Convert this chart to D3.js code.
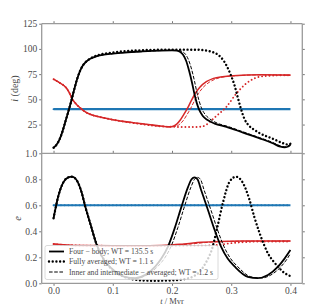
<!DOCTYPE html>
<html><head><meta charset="utf-8">
<script src="https://cdn.jsdelivr.net/npm/d3@7"></script>
<style>
html,body{margin:0;padding:0;background:#fff;}
svg{display:block;}
text{font-family:"Liberation Serif","Times New Roman",serif;}
</style></head>
<body>
<svg id="c" width="336" height="304"></svg>
<script>
// ---------- DATA (t in Myr) ----------
const xTicks = [0.0, 0.1, 0.2, 0.3, 0.4];
const iTicks = [25, 50, 75, 100, 125];
const eTicks = [0.0, 0.2, 0.4, 0.6, 0.8, 1.0];
const legendLabels = ["Four \u2212 body; WT = 135.5 s", "Fully averaged; WT = 1.1 s", "Inner and intermediate \u2212 averaged; WT = 1.2 s"];

// inclination, black (inner) curves
const iFourBlack = [[0,2],[0.005,5],[0.01,10],[0.015,18],[0.02,28],[0.025,38],[0.03,48.5],[0.035,60],[0.04,70.5],[0.045,78.5],[0.05,84],[0.055,87.3],[0.062,90.2],[0.07,92.2],[0.078,93.5],[0.1,95.3],[0.12,96.4],[0.15,97.5],[0.18,98.3],[0.2,98.5],[0.208,98.2],[0.214,97],[0.219,94],[0.224,88],[0.229,78],[0.234,66],[0.238,55],[0.242,46],[0.246,39.5],[0.252,33.5],[0.26,29.5],[0.272,26],[0.292,22.8],[0.32,17],[0.348,11.3],[0.37,6.5],[0.383,3],[0.39,2.4],[0.395,3],[0.4,5]];
const iInnerBlack = [[0,2],[0.005,5],[0.01,10],[0.015,18],[0.02,28],[0.025,38],[0.03,48.5],[0.035,60],[0.04,70.5],[0.045,78.5],[0.05,84],[0.055,87.3],[0.062,90.2],[0.07,92.2],[0.078,93.5],[0.1,95.3],[0.12,96.4],[0.15,97.5],[0.18,98.3],[0.2,98.6],[0.212,98.3],[0.218,97.2],[0.223,94.5],[0.228,89],[0.233,80],[0.238,68],[0.242,57],[0.246,48],[0.25,41],[0.256,35],[0.264,30.5],[0.276,26.5],[0.295,23],[0.32,17.8],[0.348,12],[0.37,7.3],[0.383,3.8],[0.39,3],[0.395,3.5],[0.4,5.5]];
const iFullBlack = [[0,2],[0.005,5],[0.01,10],[0.015,18],[0.02,28],[0.025,38],[0.03,48.5],[0.035,60],[0.04,70.5],[0.045,78.5],[0.05,84],[0.055,87.5],[0.062,90.5],[0.07,92.8],[0.078,94.3],[0.1,96.5],[0.12,97.8],[0.15,98.7],[0.2,99.3],[0.24,99.2],[0.255,98.6],[0.265,97.5],[0.277,94.5],[0.287,88.5],[0.295,80],[0.3,73],[0.305,65],[0.311,52],[0.317,39.5],[0.322,31],[0.329,24.5],[0.339,19.8],[0.348,16.5],[0.37,11],[0.388,6.4],[0.395,5.3],[0.4,6]];
// inclination, red (intermediate) curves
const iFourRed = [[0,70],[0.01,66.5],[0.022,61],[0.028,55],[0.031,51],[0.038,45.5],[0.045,41.5],[0.055,37],[0.065,34.5],[0.078,32.5],[0.1,29.8],[0.135,26.8],[0.16,25],[0.18,23.5],[0.195,22.7],[0.202,23.3],[0.208,25.5],[0.214,29.5],[0.22,35],[0.226,41],[0.232,48],[0.24,56.5],[0.247,62],[0.258,67.5],[0.27,70.8],[0.285,72.5],[0.303,73.5],[0.35,74.3],[0.4,74]];
const iInnerRed = [[0,70],[0.01,66.5],[0.022,61],[0.028,55],[0.031,51],[0.038,45.5],[0.045,41.5],[0.055,37],[0.065,34.5],[0.078,32.5],[0.1,29.8],[0.135,26.8],[0.16,25],[0.18,23.5],[0.2,22.8],[0.207,23.3],[0.213,25.3],[0.219,29],[0.225,34.5],[0.231,40.5],[0.237,47.5],[0.245,56],[0.252,61.5],[0.263,67],[0.275,70.5],[0.29,72.5],[0.31,73.5],[0.35,74.3],[0.4,74]];
const iFullRed = [[0,70],[0.01,66.5],[0.022,61],[0.028,55],[0.031,51],[0.038,45.5],[0.045,41.5],[0.055,37],[0.065,34.5],[0.078,32.5],[0.1,29.8],[0.135,26.5],[0.16,24.5],[0.18,23.3],[0.2,22.8],[0.23,22.5],[0.248,22.8],[0.257,24.5],[0.264,27.8],[0.275,33.5],[0.292,42.7],[0.309,56],[0.326,66],[0.348,72.4],[0.37,73.6],[0.4,74]];
// inclination, blue (outer) curve
const iBlue = [[0,40.3],[0.4,40.3]];

// eccentricity, black curves
const eFourBlack = [[0,0.5],[0.008,0.67],[0.017,0.78],[0.025,0.815],[0.031,0.82],[0.038,0.8],[0.048,0.69],[0.053,0.6],[0.062,0.46],[0.073,0.295],[0.085,0.18],[0.098,0.115],[0.12,0.05],[0.138,0.04],[0.155,0.065],[0.172,0.13],[0.182,0.19],[0.193,0.28],[0.205,0.43],[0.216,0.59],[0.227,0.74],[0.233,0.8],[0.238,0.815],[0.243,0.8],[0.249,0.72],[0.261,0.56],[0.272,0.41],[0.283,0.28],[0.294,0.19],[0.306,0.128],[0.328,0.05],[0.345,0.04],[0.362,0.064],[0.379,0.128],[0.39,0.19],[0.4,0.256]];
const eInnerBlack = [[0,0.5],[0.008,0.67],[0.017,0.78],[0.025,0.815],[0.031,0.82],[0.038,0.8],[0.048,0.69],[0.053,0.6],[0.062,0.46],[0.073,0.295],[0.085,0.18],[0.098,0.115],[0.12,0.05],[0.14,0.04],[0.158,0.065],[0.176,0.13],[0.187,0.19],[0.198,0.28],[0.21,0.43],[0.221,0.59],[0.232,0.74],[0.238,0.8],[0.243,0.815],[0.248,0.8],[0.254,0.72],[0.266,0.56],[0.277,0.41],[0.288,0.28],[0.299,0.19],[0.311,0.128],[0.333,0.05],[0.35,0.04],[0.367,0.064],[0.384,0.128],[0.394,0.185],[0.4,0.23]];
const eFullBlack = [[0,0.5],[0.008,0.67],[0.017,0.78],[0.025,0.815],[0.031,0.82],[0.038,0.8],[0.048,0.69],[0.053,0.6],[0.062,0.46],[0.073,0.295],[0.09,0.15],[0.11,0.07],[0.13,0.035],[0.15,0.022],[0.17,0.02],[0.19,0.021],[0.21,0.026],[0.225,0.036],[0.237,0.055],[0.247,0.09],[0.256,0.15],[0.262,0.2],[0.267,0.256],[0.276,0.42],[0.286,0.62],[0.297,0.78],[0.308,0.82],[0.32,0.77],[0.331,0.64],[0.339,0.51],[0.348,0.385],[0.355,0.3],[0.362,0.23],[0.371,0.17],[0.379,0.128],[0.387,0.09],[0.4,0.055]];
// eccentricity, red curves
const eFourRed = [[0,0.302],[0.02,0.295],[0.05,0.29],[0.1,0.288],[0.15,0.289],[0.19,0.293],[0.22,0.303],[0.25,0.315],[0.28,0.322],[0.32,0.325],[0.4,0.325]];
const eInnerRed = [[0,0.302],[0.02,0.295],[0.05,0.29],[0.1,0.288],[0.15,0.289],[0.19,0.291],[0.225,0.3],[0.255,0.313],[0.285,0.321],[0.32,0.324],[0.4,0.325]];
const eFullRed = [[0,0.302],[0.02,0.295],[0.05,0.29],[0.1,0.288],[0.15,0.288],[0.2,0.288],[0.25,0.289],[0.28,0.296],[0.3,0.309],[0.33,0.319],[0.36,0.322],[0.4,0.322]];
// eccentricity, blue curve
const eBlue = [[0,0.6],[0.4,0.6]];

// ---------- LAYOUT ----------
const L = 41.7, R = 302.3, T1 = 23.7, B1 = 153.3, B2 = 283.3;
const svg = d3.select("#c");
const x = d3.scaleLinear().domain([-0.02, 0.42]).range([L, R]);
const yI = d3.scaleLinear().domain([-3.5, 125]).range([B1, T1]);
const yE = d3.scaleLinear().domain([0, 1]).range([B2, B1]);

const BLUE = "#1f77b4", RED = "#d62728", BLACK = "#000";
const styles = {
  solid:  {w: 1.8, dash: null, cap: "butt"},
  dotted: {w: 2.4, dash: "0.01 3.7", cap: "round"},
  dashed: {w: 1.0, dash: "3.6 1.6", cap: "butt"}
};

function clip(id, y0, y1){
  svg.append("clipPath").attr("id", id).append("rect")
    .attr("x", L).attr("y", y0).attr("width", R - L).attr("height", y1 - y0);
}
clip("cp1", T1, B1); clip("cp2", B1, B2);

function drawLine(g, data, y, color, style, wMul){
  const s = styles[style];
  const line = d3.line().x(d => x(d[0])).y(d => y(d[1])).curve(d3.curveMonotoneX);
  g.append("path").attr("d", line(data)).attr("fill", "none")
    .attr("stroke", color).attr("stroke-width", s.w * (wMul || 1))
    .attr("stroke-dasharray", s.dash).attr("stroke-linecap", s.cap)
    .attr("stroke-linejoin", "round");
}

// panel 1
const g1 = svg.append("g").attr("clip-path", "url(#cp1)");
drawLine(g1, iBlue, yI, BLUE, "solid", 1.15);
drawLine(g1, iBlue, yI, BLUE, "dotted", 0.8);
drawLine(g1, iFourRed, yI, RED, "solid", 0.85);
drawLine(g1, iFullRed, yI, RED, "dotted", 0.8);
drawLine(g1, iInnerRed, yI, RED, "dashed");
drawLine(g1, iFourBlack, yI, BLACK, "solid");
drawLine(g1, iFullBlack, yI, BLACK, "dotted");
drawLine(g1, iInnerBlack, yI, BLACK, "dashed");

// panel 2
const g2 = svg.append("g").attr("clip-path", "url(#cp2)");
drawLine(g2, eBlue, yE, BLUE, "solid", 1.15);
drawLine(g2, eBlue, yE, BLUE, "dotted", 0.8);
drawLine(g2, eFourRed, yE, RED, "solid", 0.85);
drawLine(g2, eFullRed, yE, RED, "dotted", 0.8);
drawLine(g2, eInnerRed, yE, RED, "dashed");
drawLine(g2, eFourBlack, yE, BLACK, "solid");
drawLine(g2, eFullBlack, yE, BLACK, "dotted");
drawLine(g2, eInnerBlack, yE, BLACK, "dashed");

// ---------- AXES ----------
const SPINE = "#9a9a9a", TXT = "#4a4a4a";
function styleAxis(sel, showText){
  sel.select(".domain").remove();
  sel.selectAll(".tick line").attr("stroke", "#555").attr("stroke-width", 0.8);
  sel.selectAll(".tick text").attr("fill", TXT).style("font-size", "9.5px")
    .style("font-family", '"Liberation Serif",serif');
  if (!showText) sel.selectAll(".tick text").remove();
}
const fmtE = d3.format(".1f");
// panel 1 axes
styleAxis(svg.append("g").attr("transform", `translate(${L},0)`)
  .call(d3.axisLeft(yI).tickValues(iTicks).tickSize(2.5).tickPadding(2)), true);
styleAxis(svg.append("g").attr("transform", `translate(${R},0)`)
  .call(d3.axisRight(yI).tickValues(iTicks).tickSize(2.5)), false);
styleAxis(svg.append("g").attr("transform", `translate(0,${T1})`)
  .call(d3.axisTop(x).tickValues(xTicks).tickSize(2.5)), false);
// panel 2 axes
styleAxis(svg.append("g").attr("transform", `translate(${L},0)`)
  .call(d3.axisLeft(yE).tickValues(eTicks).tickFormat(fmtE).tickSize(2.5).tickPadding(2)), true);
styleAxis(svg.append("g").attr("transform", `translate(${R},0)`)
  .call(d3.axisRight(yE).tickValues(eTicks).tickSize(2.5)), false);
styleAxis(svg.append("g").attr("transform", `translate(0,${B1})`)
  .call(d3.axisTop(x).tickValues(xTicks).tickSize(2.5)), false);
styleAxis(svg.append("g").attr("transform", `translate(0,${B2})`)
  .call(d3.axisBottom(x).tickValues(xTicks).tickFormat(fmtE).tickSize(2.5).tickPadding(1.5)), true);

// spines
[[L, T1, R, T1], [L, B1, R, B1], [L, B2, R, B2], [L, T1, L, B2], [R, T1, R, B2]].forEach(s => {
  svg.append("line").attr("x1", s[0]).attr("y1", s[1]).attr("x2", s[2]).attr("y2", s[3])
    .attr("stroke", SPINE).attr("stroke-width", 1.3);
});

// axis labels
svg.append("text").attr("transform", `translate(18,${(T1 + B1) / 2}) rotate(-90)`)
  .attr("text-anchor", "middle").attr("fill", TXT).style("font-size", "10px")
  .html('<tspan font-style="italic">i</tspan> (deg)');
svg.append("text").attr("transform", `translate(21,${(B1 + B2) / 2}) rotate(-90)`)
  .attr("text-anchor", "middle").attr("fill", TXT).style("font-size", "10.5px")
  .style("font-style", "italic").text("e");
svg.append("text").attr("x", (L + R) / 2).attr("y", 303.5).attr("text-anchor", "middle")
  .attr("fill", TXT).style("font-size", "8.5px")
  .html('<tspan font-style="italic">t</tspan> / Myr');

// ---------- LEGEND ----------
const lg = svg.append("g");
lg.append("rect").attr("x", 45).attr("y", 245.5).attr("width", 173).attr("height", 34)
  .attr("rx", 2).attr("fill", "#fff").attr("fill-opacity", 0.8)
  .attr("stroke", "#d0d0d0").attr("stroke-width", 0.8);
const legStyles = ["solid", "dotted", "dashed"];
const rowY = [251.5, 261.5, 272];
legendLabels.forEach((lab, k) => {
  const s = styles[legStyles[k]];
  lg.append("line").attr("x1", 49).attr("x2", 64).attr("y1", rowY[k]).attr("y2", rowY[k])
    .attr("stroke", "#000").attr("stroke-width", s.w).attr("stroke-dasharray", s.dash)
    .attr("stroke-linecap", s.cap);
  lg.append("text").attr("x", 69).attr("y", rowY[k] + 2.6).attr("fill", TXT)
    .style("font-size", "7.7px").text(lab);
});
</script>
</body></html>
